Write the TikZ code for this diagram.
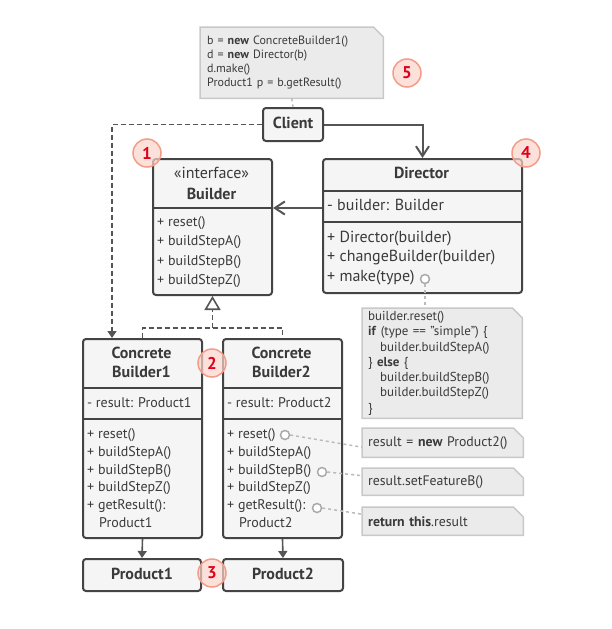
\documentclass[tikz,border=0pt]{standalone}
\usepackage{fontspec}
\setmainfont{PT Sans}
\usetikzlibrary{arrows.meta,calc,backgrounds}
\definecolor{boxfill}{HTML}{F5F5F5}
\definecolor{boxline}{HTML}{444444}
\definecolor{txt}{HTML}{3A3A3A}
\definecolor{notefill}{HTML}{EBEBEB}
\definecolor{noteline}{HTML}{C8C8C8}
\definecolor{badgefill}{HTML}{FBD3CB}
\definecolor{badgeline}{HTML}{F39C87}
\definecolor{badgetext}{HTML}{E0001B}
\definecolor{dotline}{HTML}{BBBBBB}
\definecolor{hookline}{HTML}{AAAAAA}
\definecolor{conn}{HTML}{555555}
\newcommand\drawnote[1]{%
  \draw[noteshape] (#1.north west) -- ([xshift=-10pt]#1.north east) -- ([yshift=-10pt]#1.north east) -- (#1.south east) -- (#1.south west) -- cycle;}
\begin{document}
\begin{tikzpicture}[x=1pt,y=-1pt,
  cls/.style={draw=boxline, line width=2pt, fill=boxfill, rounded corners=3pt, anchor=north west, inner sep=0pt},
  row/.style={anchor=west, inner sep=0pt, font=\fontsize{14}{17}\selectfont, text=txt, text height=10pt, text depth=3pt},
  rowd/.style={anchor=west, inner sep=0pt, font=\fontsize{16}{19}\selectfont, text=txt, text height=11.5pt, text depth=3.5pt},
  hdr/.style={inner sep=0pt, font=\fontsize{16}{19}\selectfont, text=txt, text height=11.5pt, text depth=3.5pt},
  hdrb/.style={hdr, font=\fontsize{16}{19}\selectfont\bfseries},
  divider/.style={draw=boxline, line width=2pt},
  notetext/.style={anchor=north west, inner ysep=0pt, align=left, text=txt},
  noteshape/.style={fill=notefill, draw=noteline, line width=1.5pt},
  badge/.style={circle, minimum size=28pt, inner sep=0pt, draw=badgeline, line width=1.5pt, fill=badgefill, fill opacity=0.7, text opacity=1, text=badgetext, font=\fontsize{17}{17}\selectfont\bfseries},
  assoc/.style={draw=conn, line width=2pt, -{Straight Barb[length=10pt,width=13pt]}},
  dep/.style={draw=conn, line width=1.6pt, dash pattern=on 5pt off 3pt},
  tiparr/.style={draw=conn, line width=1.6pt, -{Triangle[length=7pt,width=9pt]}},
  dotc/.style={draw=dotline, line width=1.5pt, dash pattern=on 3pt off 3pt},
  hook/.style={circle, draw=hookline, fill=white, line width=1.5pt, minimum size=9pt, inner sep=0pt}
]
\useasboundingbox (0,0) rectangle (611,629);

% ---------- Client ----------
\node[cls, minimum width=60pt, minimum height=33pt] (client) at (262,107) {};
\node[hdrb] (client-t) at (client.center) {Client};

% ---------- Builder ----------
\node[cls, minimum width=119pt, minimum height=136pt] (builder) at (152,158) {};
\draw[divider] (152,208) -- (271,208);
\node[hdr] (b-t1) at (211.5,174) {«interface»};
\node[hdrb] (b-t2) at (211.5,195) {Builder};
\foreach \t [count=\i from 0] in {+ reset(), + buildStepA(), + buildStepB(), + buildStepZ()}
  \node[row] (b-m\i) at (157,{223+\i*19.3}) {\t};

% ---------- Director ----------
\node[cls, minimum width=199pt, minimum height=134pt] (director) at (322,158) {};
\draw[divider] (322,191) -- (521,191);
\draw[divider] (322,222) -- (521,222);
\node[hdrb] (d-t) at (421.5,174) {Director};
\node[rowd] (d-a) at (327,206.5) {- builder: Builder};
\foreach \t [count=\i from 0] in {+ Director(builder), + changeBuilder(builder), + make(type)}
  \node[rowd] (d-m\i) at (327,{238+\i*19.5}) {\t};
\node[hook] (hk0) at (425,279) {};

% ---------- Concrete Builders ----------
\node[cls, minimum width=119pt, minimum height=199pt] (cb1) at (82,338) {};
\draw[divider] (82,388) -- (201,388);
\draw[divider] (82,419) -- (201,419);
\node[hdrb] (cb1-t1) at (141.5,354) {Concrete};
\node[hdrb] (cb1-t2) at (141.5,373) {Builder1};
\node[row] (cb1-a) at (87,404) {- result: Product1};
\foreach \t [count=\i from 0] in {+ reset(), + buildStepA(), + buildStepB(), + buildStepZ(), + getResult():}
  \node[row] (cb1-m\i) at (87,{435+\i*17.8}) {\t};
\node[row] (cb1-m5) at (99,524) {Product1};

\node[cls, minimum width=119pt, minimum height=199pt] (cb2) at (222,338) {};
\draw[divider] (222,388) -- (341,388);
\draw[divider] (222,419) -- (341,419);
\node[hdrb] (cb2-t1) at (281.5,354) {Concrete};
\node[hdrb] (cb2-t2) at (281.5,373) {Builder2};
\node[row] (cb2-a) at (227,404) {- result: Product2};
\foreach \t [count=\i from 0] in {+ reset(), + buildStepA(), + buildStepB(), + buildStepZ(), + getResult():}
  \node[row] (cb2-m\i) at (227,{435+\i*17.8}) {\t};
\node[row] (cb2-m5) at (239,524) {Product2};
\node[hook] (hk1) at (285,435) {};
\node[hook] (hk2) at (322,472) {};
\node[hook] (hk3) at (317,508) {};

% ---------- Products ----------
\node[cls, minimum width=118pt, minimum height=32pt] (p1) at (82,558) {};
\node[hdrb] (p1-t) at (p1.center) {Product1};
\node[cls, minimum width=120pt, minimum height=32pt] (p2) at (222,558) {};
\node[hdrb] (p2-t) at (p2.center) {Product2};

% ---------- Notes ----------
\node[notetext, font=\fontsize{12}{14.2}\selectfont, inner xsep=7pt, text width=169pt, minimum height=71pt] (topnote) at (200,27)
  {b = \textbf{new} ConcreteBuilder1()\\ d = \textbf{new} Director(b)\\ d.make()\\ Product1 p = b.getResult()};
\node[notetext, font=\fontsize{13}{15.3}\selectfont, inner xsep=6pt, text width=148pt, minimum height=110pt] (dirnote) at (362,308)
  {builder.reset()\\ \textbf{if} (type == "simple") \{\\ \hspace*{12pt}builder.buildStepA()\\ \} \textbf{else} \{\\ \hspace*{12pt}builder.buildStepB()\\ \hspace*{12pt}builder.buildStepZ()\\ \}};
\node[notetext, font=\fontsize{13.8}{15}\selectfont, inner xsep=6pt, text width=149pt, minimum height=29pt] (n1) at (362,428)
  {result = \textbf{new} Product2()};
\node[notetext, font=\fontsize{13.8}{15}\selectfont, inner xsep=6pt, text width=149pt, minimum height=27pt] (n2) at (362,468)
  {result.setFeatureB()};
\node[notetext, font=\fontsize{13.8}{15}\selectfont, inner xsep=6pt, text width=149pt, minimum height=28pt] (n3) at (362,507)
  {\textbf{return this}.result};

\begin{pgfonlayer}{background}
  \fill[white] (0,0) rectangle (611,629);
  \drawnote{topnote}
  \drawnote{dirnote}
  \drawnote{n1}
  \drawnote{n2}
  \drawnote{n3}
\end{pgfonlayer}

% ---------- Connectors ----------
\draw[dotc] (topnote.south) -- (client.north);
\draw[assoc] (client.east) -| (director.north);
\draw[assoc] (director.west |- 0,208) -- ([yshift=-50pt]builder.north east);
\draw[dep, -{Triangle[length=7pt,width=9pt]}] (client.west) -| ([xshift=30pt]cb1.north west);
\draw[dep] (cb1.north) -- ++(0,-10) -| (cb2.north);
\draw[dep, -{Triangle[open,length=14pt,width=16pt]}] ($(cb1.north)!0.5!(cb2.north)+(0,-10)$) -- (builder.south);
\draw[tiparr] (cb1.south) -- (p1.north);
\draw[tiparr] (cb2.south) -- (p2.north);
\draw[dotc] (hk0.south) -- (hk0.south |- dirnote.north);
\draw[dotc] (hk1.east) -- ([yshift=-4.5pt]n1.west);
\draw[dotc] (hk2.east) -- ([yshift=6pt]n2.west);
\draw[dotc] (hk3.east) -- ([yshift=7pt]n3.west);

% ---------- Badges ----------
\node[badge] (bd1) at (147,153) {1};
\node[badge] (bd2) at (212,363) {2};
\node[badge] (bd3) at (212,573) {3};
\node[badge] (bd4) at (526,153) {4};
\node[badge] (bd5) at (407,73) {5};
\end{tikzpicture}
\end{document}
